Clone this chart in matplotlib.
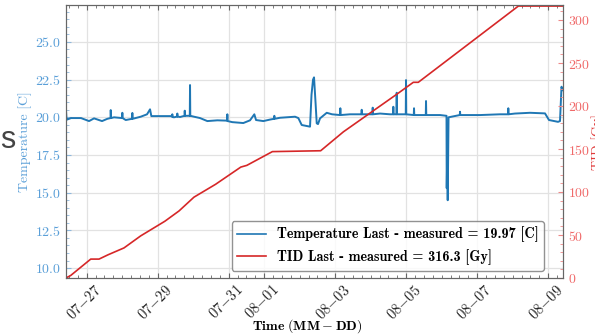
import datetime as dt
import matplotlib
matplotlib.use('Agg')
import matplotlib.pyplot as plt
import matplotlib.dates as mdates
import matplotlib.transforms as mtransforms
from matplotlib.ticker import AutoMinorLocator, MultipleLocator

START = dt.datetime(2023, 7, 27)

# days since 07-27 00:00
temp_days = [-0.583, -0.570, -0.555, -0.442, -0.161, 0.065, 0.206, 0.431, 0.580,
             0.670, 0.676, 0.685, 0.769, 0.994, 1.003, 1.011, 1.099,
             1.276, 1.285, 1.293, 1.521, 1.699, 1.783, 1.820, 2.366,
             2.405, 2.411, 2.418, 2.459, 2.545, 2.552, 2.559, 2.628,
             2.755, 2.761, 2.768, 2.825, 2.903, 2.910, 2.917, 3.023,
             3.192, 3.397, 3.679, 3.952, 3.961, 3.969, 4.101, 4.411,
             4.600, 4.721, 4.769, 4.975, 5.163, 5.276, 5.285, 5.293,
             5.445, 5.868, 5.961, 6.056, 6.290, 6.332, 6.375, 6.403,
             6.445, 6.479, 6.515, 6.572, 6.761, 6.910, 7.135, 7.144,
             7.152, 7.417, 7.739, 7.746, 7.753, 8.049, 8.056, 8.063,
             8.262, 8.544, 8.630, 8.637, 8.644, 8.725, 8.732, 8.739,
             8.987, 8.994, 9.001, 9.213, 9.220, 9.227, 9.551, 9.558,
             9.565, 9.952, 10.135, 10.141, 10.155, 10.169, 10.192,
             10.509, 10.516, 10.523, 11.079, 11.642, 11.869, 11.876,
             11.883, 12.065, 12.487, 12.910, 13.022, 13.276, 13.332,
             13.375, 13.403]
temp_vals = [20.40, 19.90, 19.85, 19.95, 19.95, 19.75, 19.93, 19.75, 19.90,
             19.95, 20.48, 19.95, 20.00, 19.95, 20.30, 19.95, 19.82,
             19.90, 20.29, 19.90, 20.04, 20.20, 20.53, 20.08, 20.08,
             20.05, 20.20, 20.02, 20.00, 20.05, 20.25, 20.05, 20.02,
             20.10, 20.44, 20.10, 20.10, 20.10, 22.14, 20.10, 20.04,
             19.95, 19.75, 19.80, 19.78, 20.20, 19.75, 19.68, 19.62,
             19.80, 20.20, 19.82, 19.75, 19.85, 19.90, 20.10, 19.90,
             19.97, 20.04, 19.95, 19.49, 19.38, 21.50, 22.50, 22.65,
             21.00, 19.60, 19.55, 19.93, 20.30, 20.20, 20.15, 20.60,
             20.15, 20.20, 20.20, 20.50, 20.20, 20.20, 20.64, 20.20,
             20.25, 20.20, 20.20, 20.70, 20.20, 20.20, 21.63, 20.20,
             20.20, 22.47, 20.20, 20.15, 20.60, 20.15, 20.15, 21.08,
             20.15, 20.15, 20.10, 15.30, 17.50, 14.50, 20.00,
             20.15, 20.37, 20.15, 20.15, 20.20, 20.20, 20.60,
             20.20, 20.25, 20.30, 20.26, 19.82, 19.70, 19.75,
             22.03, 21.80]

tid_days = [-0.583, -0.45, 0.113, 0.346, 0.60, 1.05, 1.52, 2.20, 2.60, 3.02,
            3.63, 4.34, 4.51, 5.23, 6.59, 7.23, 8.73, 9.20, 9.34, 12.16, 13.408]
tid_vals = [0.0, 3.0, 22.0, 22.0, 27.0, 35.0, 49.0, 66.0, 78.0, 94.0,
            109.0, 129.0, 131.0, 147.0, 148.0, 170.0, 213.6, 227.6, 227.6,
            316.3, 316.3]

temp_last = 19.97
tid_last = 316.3


def to_dates(days):
    """Turn day offsets into datetimes"""
    return [START + dt.timedelta(days=d) for d in days]


plt.rcParams['font.family'] = 'cmr10'
plt.rcParams['mathtext.fontset'] = 'cm'
plt.rcParams['axes.formatter.use_mathtext'] = True
plt.rcParams['font.size'] = 10

blue = '#1f77b4'
red = '#d62728'

fig = plt.figure(figsize=(5.95, 3.36), dpi=100)
ax = fig.add_axes([0.111, 0.1726, 0.8347, 0.8125])
ax2 = ax.twinx()

l1, = ax.plot(to_dates(temp_days), temp_vals, color=blue, lw=1.4)
l2, = ax2.plot(to_dates(tid_days), tid_vals, color=red, lw=1.2)

ax.set_xlim(to_dates([tid_days[0]])[0], to_dates([tid_days[-1]])[0])
ax.set_ylim(9.34, 27.45)
ax2.set_ylim(0, 317.5)

ax.xaxis.set_major_locator(mdates.DayLocator(bymonthday=range(1, 32, 2)))
ax.xaxis.set_major_formatter(mdates.DateFormatter('$%m{-}%d$'))
ax.xaxis.set_minor_locator(mdates.HourLocator(byhour=[0, 6, 12, 18]))
ax.yaxis.set_major_locator(MultipleLocator(2.5))
ax.yaxis.set_minor_locator(AutoMinorLocator(5))
ax2.yaxis.set_major_locator(MultipleLocator(50))
ax2.yaxis.set_minor_locator(AutoMinorLocator(5))

ax.grid(True, which='major', color='#e2e2e2', lw=0.9)
for s in list(ax.spines.values()) + list(ax2.spines.values()):
    s.set_color('#666666')

ax.tick_params(axis='x', which='both', direction='in', top=True, colors='#666666',
               labelcolor='#222222', labelsize=10.5, pad=3)
ax.tick_params(axis='x', which='minor', length=2)
ax.tick_params(axis='y', which='both', direction='in', colors='#8fb8dc',
               labelcolor='#5a9fd8')
ax.tick_params(axis='y', which='minor', length=2)
ax2.tick_params(axis='y', which='both', direction='in', colors='#ee8888',
                labelcolor='#f06a6a')
ax2.tick_params(axis='y', which='minor', length=2)
shift = mtransforms.ScaledTranslation(0.07, 0, fig.dpi_scale_trans)
for lab in ax.get_xticklabels():
    lab.set_rotation(45)
    lab.set_ha('right')
    lab.set_va('top')
    lab.set_rotation_mode('anchor')
    lab.set_transform(lab.get_transform() + shift)

ax.set_ylabel('Temperature [C]', color='#5a9fd8', labelpad=2)
ax2.set_ylabel('TID [Gy]', color='#e03a3a', labelpad=1)
ax.set_xlabel(r'$\mathbf{Time}\ (\mathbf{MM}-\mathbf{DD})$', va='center')
ax.xaxis.set_label_coords(0.485, -0.178)

leg = ax2.legend([l1, l2],
                 ['Temperature Last - measured = %.2f [C]' % temp_last,
                  'TID Last - measured = %.1f [Gy]' % tid_last],
                 loc='lower right', bbox_to_anchor=(0.977, 0.0),
                 prop={'family': 'cmb10', 'size': 10.2},
                 handlelength=2.0, edgecolor='#777777', fancybox=True)
for h in leg.get_lines():
    h.set_linewidth(1.2)

fig.text(0.0, 0.5586, 's', family='Liberation Sans', fontsize=22,
         color='#444444', ha='left', va='baseline')

fig.savefig('out.png', dpi=100)
